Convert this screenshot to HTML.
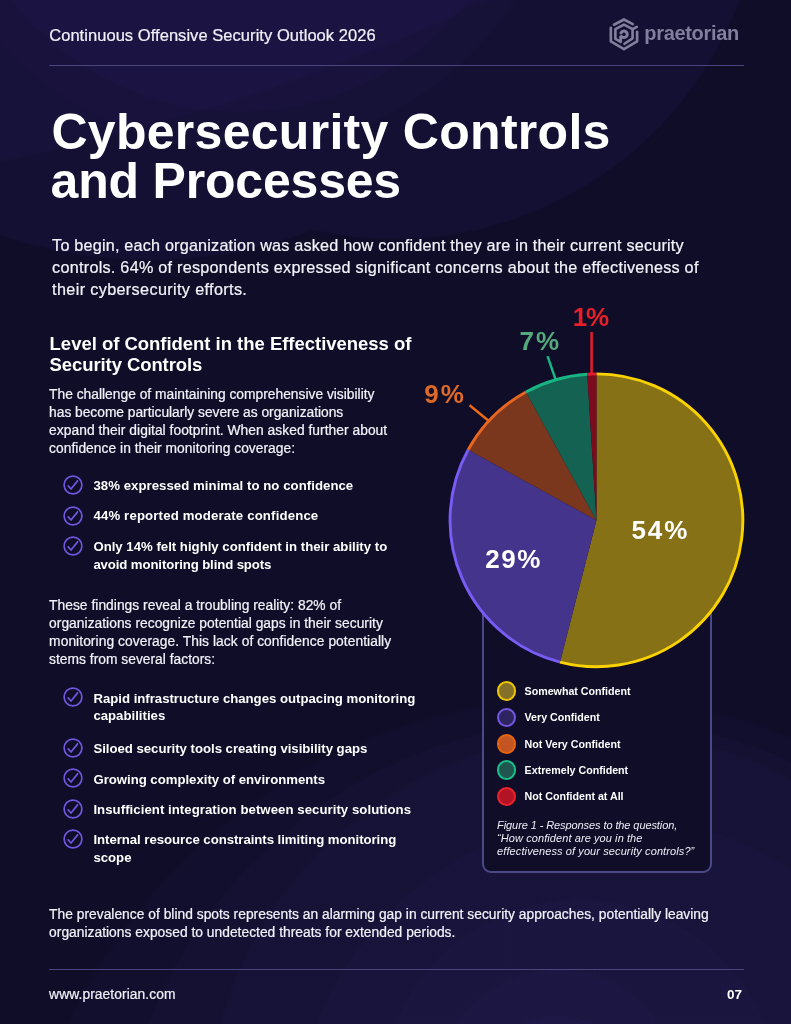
<!DOCTYPE html>
<html>
<head>
<meta charset="utf-8">
<title>Cybersecurity Controls and Processes</title>
<style>
*{margin:0;padding:0;box-sizing:border-box;}
html,body{width:791px;height:1024px;overflow:hidden;background:#100e2a;}
body{font-family:"Liberation Sans",sans-serif;color:#fff;position:relative;}
#page{position:absolute;left:0;top:0;width:791px;height:1024px;overflow:hidden;
  background:radial-gradient(circle 77.5px at 558px 1091px, rgba(78,58,165,0.03) 0px, rgba(78,58,165,0.03) 73.5px, rgba(78,58,165,0) 76.5px),
    radial-gradient(circle 123.5px at 558px 1091px, rgba(78,58,165,0.04) 0px, rgba(78,58,165,0.04) 119.5px, rgba(78,58,165,0) 122.5px),
    radial-gradient(circle 202.5px at 580px 1100px, rgba(78,58,165,0.04) 0px, rgba(78,58,165,0.04) 198.5px, rgba(78,58,165,0) 201.5px),
    radial-gradient(circle 323.5px at 617px 1139px, rgba(78,58,165,0.04) 0px, rgba(78,58,165,0.04) 319.5px, rgba(78,58,165,0) 322.5px),
    radial-gradient(circle 403.5px at 605px 1134px, rgba(78,58,165,0.04) 0px, rgba(78,58,165,0.04) 399.5px, rgba(78,58,165,0) 402.5px),
    radial-gradient(circle 482.5px at 595px 1200px, rgba(78,58,165,0.04) 0px, rgba(78,58,165,0.04) 478.5px, rgba(78,58,165,0) 481.5px),
    radial-gradient(circle 570.5px at 582px 1266px, rgba(78,58,165,0.045) 0px, rgba(78,58,165,0.045) 566.5px, rgba(78,58,165,0) 569.5px),
    #0f0d28;}
.t{position:absolute;white-space:nowrap;line-height:1;color:#fff;}
.bd{font-weight:bold;}
.r{-webkit-text-stroke:0.22px currentColor;}
.it{font-style:italic;}
.rule{position:absolute;left:48.6px;width:695.4px;height:1.4px;background:#48457f;}
.chk{position:absolute;}
.dot{position:absolute;width:19.5px;height:19.5px;border-radius:50%;}
.box{position:absolute;left:482px;top:560px;width:230px;height:313px;border:2.2px solid #4b4987;border-radius:9px;background:#0f0d28;}
.pie{position:absolute;left:0;top:0;}
.glow{position:absolute;left:0;top:0;}
#fg{position:absolute;left:0;top:0;width:791px;height:1024px;will-change:transform;}
.logo{position:absolute;}
</style>
</head>
<body>
<div id="page">
<div id="fg">
<svg class="glow" width="791" height="420" viewBox="0 0 791 420"><defs><clipPath id="u"><circle cx="395" cy="-129" r="368"/><circle cx="150" cy="-200" r="460"/></clipPath><filter id="sb" x="-5%" y="-5%" width="110%" height="110%" color-interpolation-filters="sRGB"><feGaussianBlur stdDeviation="1.2"/></filter></defs><g filter="url(#sb)"><g clip-path="url(#u)"><rect x="-20" y="-20" width="840" height="460" fill="rgba(78,58,165,0.09)"/><circle cx="240" cy="-178" r="328" fill="rgba(78,58,165,0.035)"/><circle cx="240" cy="-178" r="290" fill="rgba(78,58,165,0.06)"/><circle cx="-404" cy="-1880" r="2081" fill="rgba(78,58,165,0.055)"/></g></g></svg>
<div class="t r" style="left:49.20px;top:27.33px;font-size:16.5px;letter-spacing:0.05px;color:#f1f0f8;">Continuous Offensive Security Outlook 2026</div>
<div class="rule" style="top:64.5px"></div>
<div class="t bd" style="left:51.40px;top:106.58px;font-size:50px;letter-spacing:0.29px;">Cybersecurity Controls</div>
<div class="t bd" style="left:50.60px;top:156.07px;font-size:50px;letter-spacing:-0.2px;">and Processes</div>
<div class="t r" style="left:52.10px;top:236.99px;font-size:16.2px;letter-spacing:0.2px;color:#f3f2fa;">To begin, each organization was asked how confident they are in their current security</div>
<div class="t r" style="left:52.10px;top:258.89px;font-size:16.2px;letter-spacing:0.26px;color:#f3f2fa;">controls. 64% of respondents expressed significant concerns about the effectiveness of</div>
<div class="t r" style="left:52.10px;top:281.09px;font-size:16.2px;letter-spacing:0.36px;color:#f3f2fa;">their cybersecurity efforts.</div>
<div class="t bd" style="left:49.60px;top:334.64px;font-size:18.5px;letter-spacing:-0.025px;">Level of Confident in the Effectiveness of</div>
<div class="t bd" style="left:49.60px;top:356.34px;font-size:18.5px;letter-spacing:-0.09px;">Security Controls</div>
<div class="t r" style="left:49.10px;top:387.72px;font-size:13.8px;letter-spacing:0.004px;color:#f3f2fa;">The challenge of maintaining comprehensive visibility</div>
<div class="t r" style="left:49.10px;top:406.02px;font-size:13.8px;letter-spacing:-0.025px;color:#f3f2fa;">has become particularly severe as organizations</div>
<div class="t r" style="left:49.10px;top:424.12px;font-size:13.8px;letter-spacing:0.039px;color:#f3f2fa;">expand their digital footprint. When asked further about</div>
<div class="t r" style="left:49.10px;top:442.32px;font-size:13.8px;letter-spacing:0.034px;color:#f3f2fa;">confidence in their monitoring coverage:</div>
<svg class="chk" style="left:62.00px;top:474.45px" width="22" height="22" viewBox="-1 -1 22 22"><circle cx="10" cy="10" r="8.9" fill="none" stroke="#7056de" stroke-width="1.7"/><path d="M5.2 10.9 L8.0 14.0 L14.6 5.9" fill="none" stroke="#7056de" stroke-width="1.7" stroke-linecap="round" stroke-linejoin="round"/></svg>
<div class="t bd" style="left:93.40px;top:479.03px;font-size:13.2px;letter-spacing:0.05px;">38% expressed minimal to no confidence</div>
<svg class="chk" style="left:62.00px;top:504.65px" width="22" height="22" viewBox="-1 -1 22 22"><circle cx="10" cy="10" r="8.9" fill="none" stroke="#7056de" stroke-width="1.7"/><path d="M5.2 10.9 L8.0 14.0 L14.6 5.9" fill="none" stroke="#7056de" stroke-width="1.7" stroke-linecap="round" stroke-linejoin="round"/></svg>
<div class="t bd" style="left:93.40px;top:509.43px;font-size:13.2px;letter-spacing:0.16px;">44% reported moderate confidence</div>
<svg class="chk" style="left:62.00px;top:535.15px" width="22" height="22" viewBox="-1 -1 22 22"><circle cx="10" cy="10" r="8.9" fill="none" stroke="#7056de" stroke-width="1.7"/><path d="M5.2 10.9 L8.0 14.0 L14.6 5.9" fill="none" stroke="#7056de" stroke-width="1.7" stroke-linecap="round" stroke-linejoin="round"/></svg>
<div class="t bd" style="left:93.40px;top:539.73px;font-size:13.2px;">Only 14% felt highly confident in their ability to</div>
<div class="t bd" style="left:93.40px;top:557.93px;font-size:13.2px;letter-spacing:-0.11px;">avoid monitoring blind spots</div>
<div class="t r" style="left:49.10px;top:598.52px;font-size:13.8px;letter-spacing:0.027px;color:#f3f2fa;">These findings reveal a troubling reality: 82% of</div>
<div class="t r" style="left:49.10px;top:616.72px;font-size:13.8px;letter-spacing:0.03px;color:#f3f2fa;">organizations recognize potential gaps in their security</div>
<div class="t r" style="left:49.10px;top:634.92px;font-size:13.8px;letter-spacing:0.06px;color:#f3f2fa;">monitoring coverage. This lack of confidence potentially</div>
<div class="t r" style="left:49.10px;top:653.12px;font-size:13.8px;letter-spacing:0.014px;color:#f3f2fa;">stems from several factors:</div>
<svg class="chk" style="left:62.00px;top:686.05px" width="22" height="22" viewBox="-1 -1 22 22"><circle cx="10" cy="10" r="8.9" fill="none" stroke="#7056de" stroke-width="1.7"/><path d="M5.2 10.9 L8.0 14.0 L14.6 5.9" fill="none" stroke="#7056de" stroke-width="1.7" stroke-linecap="round" stroke-linejoin="round"/></svg>
<div class="t bd" style="left:93.40px;top:691.63px;font-size:13.2px;letter-spacing:-0.01px;">Rapid infrastructure changes outpacing monitoring</div>
<div class="t bd" style="left:93.40px;top:709.33px;font-size:13.2px;">capabilities</div>
<svg class="chk" style="left:62.00px;top:736.50px" width="22" height="22" viewBox="-1 -1 22 22"><circle cx="10" cy="10" r="8.9" fill="none" stroke="#7056de" stroke-width="1.7"/><path d="M5.2 10.9 L8.0 14.0 L14.6 5.9" fill="none" stroke="#7056de" stroke-width="1.7" stroke-linecap="round" stroke-linejoin="round"/></svg>
<div class="t bd" style="left:93.40px;top:741.63px;font-size:13.2px;letter-spacing:-0.02px;">Siloed security tools creating visibility gaps</div>
<svg class="chk" style="left:62.00px;top:767.40px" width="22" height="22" viewBox="-1 -1 22 22"><circle cx="10" cy="10" r="8.9" fill="none" stroke="#7056de" stroke-width="1.7"/><path d="M5.2 10.9 L8.0 14.0 L14.6 5.9" fill="none" stroke="#7056de" stroke-width="1.7" stroke-linecap="round" stroke-linejoin="round"/></svg>
<div class="t bd" style="left:93.40px;top:772.53px;font-size:13.2px;letter-spacing:-0.02px;">Growing complexity of environments</div>
<svg class="chk" style="left:62.00px;top:798.05px" width="22" height="22" viewBox="-1 -1 22 22"><circle cx="10" cy="10" r="8.9" fill="none" stroke="#7056de" stroke-width="1.7"/><path d="M5.2 10.9 L8.0 14.0 L14.6 5.9" fill="none" stroke="#7056de" stroke-width="1.7" stroke-linecap="round" stroke-linejoin="round"/></svg>
<div class="t bd" style="left:93.40px;top:802.83px;font-size:13.2px;letter-spacing:0.05px;">Insufficient integration between security solutions</div>
<svg class="chk" style="left:62.00px;top:828.30px" width="22" height="22" viewBox="-1 -1 22 22"><circle cx="10" cy="10" r="8.9" fill="none" stroke="#7056de" stroke-width="1.7"/><path d="M5.2 10.9 L8.0 14.0 L14.6 5.9" fill="none" stroke="#7056de" stroke-width="1.7" stroke-linecap="round" stroke-linejoin="round"/></svg>
<div class="t bd" style="left:93.40px;top:833.13px;font-size:13.2px;letter-spacing:-0.04px;">Internal resource constraints limiting monitoring</div>
<div class="t bd" style="left:93.40px;top:851.43px;font-size:13.2px;">scope</div>
<div class="t r" style="left:49.10px;top:908.12px;font-size:13.8px;letter-spacing:0.015px;color:#f3f2fa;">The prevalence of blind spots represents an alarming gap in current security approaches, potentially leaving</div>
<div class="t r" style="left:49.10px;top:925.92px;font-size:13.8px;letter-spacing:0.02px;color:#f3f2fa;">organizations exposed to undetected threats for extended periods.</div>
<div class="rule" style="top:969px"></div>
<div class="t r" style="left:49.10px;top:987.52px;font-size:13.8px;letter-spacing:0.083px;color:#f1f0f8;">www.praetorian.com</div>
<div class="t bd" style="left:726.90px;top:987.77px;font-size:13.5px;letter-spacing:0.03px;">07</div>
<div class="box"></div>
<div class="dot" style="left:496.75px;top:681.15px;background:#85702a;border:2px solid #ecc400"></div>
<div class="t bd" style="left:524.60px;top:685.64px;font-size:10.7px;letter-spacing:-0.02px;">Somewhat Confident</div>
<div class="dot" style="left:496.75px;top:707.65px;background:#2e245f;border:2px solid #7357e2"></div>
<div class="t bd" style="left:524.60px;top:712.24px;font-size:10.7px;letter-spacing:-0.02px;">Very Confident</div>
<div class="dot" style="left:496.75px;top:734.05px;background:#c35523;border:2px solid #e6640f"></div>
<div class="t bd" style="left:524.60px;top:738.54px;font-size:10.7px;letter-spacing:-0.02px;">Not Very Confident</div>
<div class="dot" style="left:496.75px;top:760.45px;background:#215550;border:2px solid #19be87"></div>
<div class="t bd" style="left:524.60px;top:765.14px;font-size:10.7px;letter-spacing:-0.02px;">Extremely Confident</div>
<div class="dot" style="left:496.75px;top:786.85px;background:#b21426;border:2px solid #eb232d"></div>
<div class="t bd" style="left:524.60px;top:791.34px;font-size:10.7px;letter-spacing:-0.02px;">Not Confident at All</div>
<div class="t it" style="left:497.10px;top:819.69px;font-size:11px;letter-spacing:-0.09px;color:#efeef7;">Figure 1 - Responses to the question,</div>
<div class="t it" style="left:497.10px;top:832.79px;font-size:11px;letter-spacing:0.08px;color:#efeef7;">“How confident are you in the</div>
<div class="t it" style="left:497.10px;top:845.69px;font-size:11px;letter-spacing:0.1px;color:#efeef7;">effectiveness of your security controls?”</div>
<svg class="pie" width="791" height="1024" viewBox="0 0 791 1024"><path d="M596.45 520.3 L596.45 373.90 A146.4 146.4 0 1 1 560.04 662.10 Z" fill="#867116"/><path d="M596.45 520.3 L560.04 662.10 A146.4 146.4 0 0 1 468.16 449.77 Z" fill="#44348c"/><path d="M596.45 520.3 L468.16 449.77 A146.4 146.4 0 0 1 525.92 392.01 Z" fill="#7a371d"/><path d="M596.45 520.3 L525.92 392.01 A146.4 146.4 0 0 1 587.26 374.19 Z" fill="#146352"/><path d="M596.45 520.3 L587.26 374.19 A146.4 146.4 0 0 1 596.45 373.90 Z" fill="#7e0b1d"/><path d="M596.45 373.90 A146.4 146.4 0 1 1 560.04 662.10" fill="none" stroke="#fad200" stroke-width="2.9"/><path d="M560.04 662.10 A146.4 146.4 0 0 1 468.16 449.77" fill="none" stroke="#785cf5" stroke-width="2.9"/><path d="M468.16 449.77 A146.4 146.4 0 0 1 525.92 392.01" fill="none" stroke="#e8661f" stroke-width="2.9"/><path d="M525.92 392.01 A146.4 146.4 0 0 1 587.26 374.19" fill="none" stroke="#17b584" stroke-width="2.9"/><path d="M587.26 374.19 A146.4 146.4 0 0 1 596.45 373.90" fill="none" stroke="#e31b2f" stroke-width="2.9"/><path d="M591.6 332 L591.6 373.5" stroke="#e81c2a" stroke-width="2.5" fill="none"/><path d="M547.5 356.1 L555.6 379.5" stroke="#14b987" stroke-width="2.4" fill="none"/><path d="M469.6 405.3 L489.5 421.5" stroke="#ee6a18" stroke-width="2.4" fill="none"/></svg>
<div class="t bd" style="left:631.50px;top:516.89px;font-size:26px;letter-spacing:1.9px;">54%</div>
<div class="t bd" style="left:485.20px;top:546.19px;font-size:26px;letter-spacing:1.6px;">29%</div>
<div class="t bd" style="left:424.20px;top:381.19px;font-size:26px;letter-spacing:2.0px;color:#de6928;">9%</div>
<div class="t bd" style="left:519.50px;top:327.69px;font-size:26px;letter-spacing:2.0px;color:#54aa7d;">7%</div>
<div class="t bd" style="left:572.80px;top:303.99px;font-size:26px;letter-spacing:-1.3px;color:#e81e28;">1%</div>
<svg class="logo" style="left:604px;top:12px" width="40" height="44" viewBox="0 0 791 870">
<g fill="none" stroke="#817f9c" stroke-width="52" stroke-linejoin="round" stroke-linecap="round">
<path d="M197 252 L395 148 L570 240"/>
<path d="M135 312 L135 580 L395 735 L655 580 L655 392"/>
<path d="M650 293 L565 338 L565 520 L405 628"/>
<path d="M565 338 L395 250 L225 340 L225 530 L330 592 L330 492"/>
<path d="M335 415 A65 65 0 1 1 347 484 L330 500" stroke-width="58"/>
</g></svg>
<div class="t bd" style="left:644.30px;top:23.37px;font-size:20px;letter-spacing:-0.32px;color:#817f9d;">praetorian</div>
</div>
</div>
</body>
</html>
